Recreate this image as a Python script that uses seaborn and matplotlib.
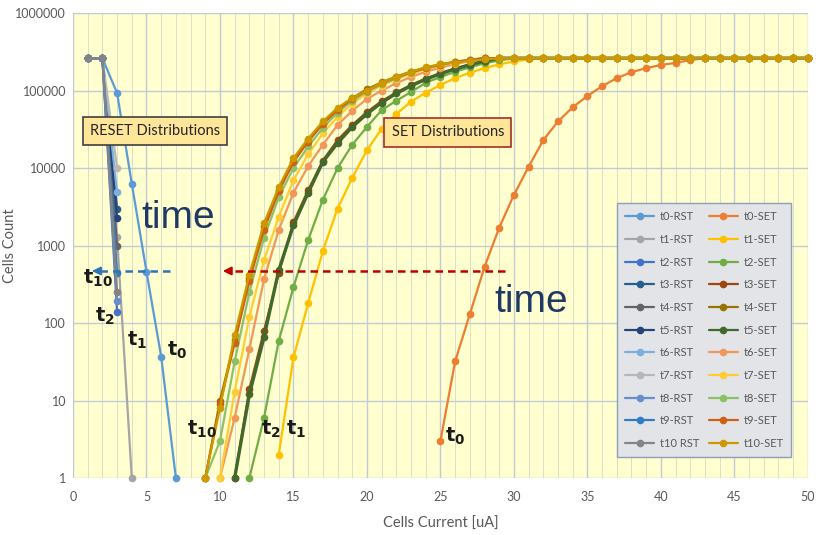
import matplotlib
matplotlib.use("Agg")
import matplotlib.pyplot as plt
from matplotlib.lines import Line2D
from matplotlib.ticker import FixedLocator, MultipleLocator
import numpy as np
import pandas as pd
import seaborn as sns

# ---------------- data ----------------
FULL = 262144

labels = ["t0", "t1", "t2", "t3", "t4", "t5", "t6", "t7", "t8", "t9", "t10"]

rst_colors = ["#5B9BD5", "#A5A5A5", "#4472C4", "#255E91", "#636363", "#264478",
              "#7CAFDD", "#B7B7B7", "#698ED0", "#327DC2", "#848484"]
set_colors = ["#ED7D31", "#FFC000", "#70AD47", "#9E480E", "#997300", "#43682B",
              "#F1975A", "#FFCD33", "#8CC168", "#D26012", "#CC9A00"]

# RESET distributions: first current value and counts (1 uA steps)
rst_start = [1, 1, 1, 1, 1, 1, 1, 1, 1, 1, 1]
t0_rst = [FULL, FULL, 93000, 6300, 460, 37, 1]
t1_rst = [FULL, FULL, 1300, 1]
t2_rst = [FULL, FULL, 140]
t3_rst = [FULL, FULL, 3000]
t4_rst = [FULL, FULL, 1000]
t5_rst = [FULL, FULL, 2250]
t6_rst = [FULL, FULL, 4900]
t7_rst = [FULL, FULL, 10000]
t8_rst = [FULL, FULL, 190]
t9_rst = [FULL, FULL, 440]
t10_rst = [FULL, FULL, 250]

# SET distributions: first current value and counts (1 uA steps up to 50 uA)
set_start = [25, 14, 12, 11, 9, 11, 10, 10, 9, 9, 9]
t0_set = [3, 32, 130, 530, 1700, 4500, 10400, 23000, 40000, 61000, 85000, 114000,
          145000, 173000, 195000, 214000, 228000, 248000,
          FULL, FULL, FULL, FULL, FULL, FULL, FULL, FULL]
t1_set = [2, 36, 180, 850, 3000, 7500, 17000, 32000, 50000, 72000, 94000, 118000,
          145000, 170000, 195000, 218000, 238000, 252000,
          FULL, FULL, FULL, FULL, FULL, FULL, FULL, FULL, FULL, FULL,
          FULL, FULL, FULL, FULL, FULL, FULL, FULL, FULL, FULL]
t2_set = [1, 6, 59, 290, 1180, 3900, 10000, 20000, 34000, 56000, 74000, 96000,
          126000, 150000, 175000, 200000, 225000, 245000,
          FULL, FULL, FULL, FULL, FULL, FULL, FULL, FULL, FULL, FULL, FULL,
          FULL, FULL, FULL, FULL, FULL, FULL, FULL, FULL, FULL, FULL]
t3_set = [1, 14, 80, 440, 2000, 5200, 12500, 23000, 36000, 53000, 73000, 95000,
          118000, 143000, 168000, 193000, 218000, 242000,
          FULL, FULL, FULL, FULL, FULL, FULL, FULL, FULL, FULL, FULL, FULL,
          FULL, FULL, FULL, FULL, FULL, FULL, FULL, FULL, FULL, FULL, FULL]
t4_set = [1, 10, 60, 380, 1800, 5200, 12000, 23000, 38000, 58000, 80000, 104000,
          128000, 152000, 176000, 198000, 218000, 236000, 250000,
          FULL, FULL, FULL, FULL, FULL, FULL, FULL, FULL, FULL, FULL, FULL, FULL,
          FULL, FULL, FULL, FULL, FULL, FULL, FULL, FULL, FULL, FULL, FULL]
t5_set = [1, 12, 66, 480, 1830, 4800, 12000, 21000, 34000, 50000, 70000, 92000,
          115000, 140000, 165000, 190000, 215000, 240000,
          FULL, FULL, FULL, FULL, FULL, FULL, FULL, FULL, FULL, FULL, FULL,
          FULL, FULL, FULL, FULL, FULL, FULL, FULL, FULL, FULL, FULL, FULL]
t6_set = [1, 6, 46, 370, 1600, 4800, 10600, 20000, 36000, 55000, 78000, 100000,
          125000, 150000, 175000, 198000, 220000, 240000,
          FULL, FULL, FULL, FULL, FULL, FULL, FULL, FULL, FULL, FULL, FULL, FULL,
          FULL, FULL, FULL, FULL, FULL, FULL, FULL, FULL, FULL, FULL, FULL]
t7_set = [1, 13, 120, 650, 2350, 7000, 15000, 28000, 46000, 68000, 92000, 116000,
          140000, 165000, 188000, 210000, 228000, 244000,
          FULL, FULL, FULL, FULL, FULL, FULL, FULL, FULL, FULL, FULL, FULL, FULL,
          FULL, FULL, FULL, FULL, FULL, FULL, FULL, FULL, FULL, FULL, FULL]
t8_set = [1, 3, 32, 250, 1260, 4200, 10000, 19000, 33000, 52000, 74000, 97000,
          120000, 145000, 170000, 193000, 214000, 232000, 247000,
          FULL, FULL, FULL, FULL, FULL, FULL, FULL, FULL, FULL, FULL, FULL, FULL,
          FULL, FULL, FULL, FULL, FULL, FULL, FULL, FULL, FULL, FULL, FULL]
t9_set = [1, 9, 55, 350, 1600, 5000, 12000, 22000, 37000, 56000, 78000, 100000,
          124000, 148000, 172000, 196000, 216000, 234000, 248000,
          FULL, FULL, FULL, FULL, FULL, FULL, FULL, FULL, FULL, FULL, FULL, FULL,
          FULL, FULL, FULL, FULL, FULL, FULL, FULL, FULL, FULL, FULL, FULL]
t10_set = [1, 8, 70, 420, 1950, 5700, 13400, 24000, 40000, 60000, 80000, 100000,
           126000, 150000, 175000, 200000, 220000, 230000, 243000, 252000,
           FULL, FULL, FULL, FULL, FULL, FULL, FULL, FULL, FULL, FULL, FULL,
           FULL, FULL, FULL, FULL, FULL, FULL, FULL, FULL, FULL, FULL, FULL]

rst_values = [t0_rst, t1_rst, t2_rst, t3_rst, t4_rst, t5_rst, t6_rst, t7_rst,
              t8_rst, t9_rst, t10_rst]
set_values = [t0_set, t1_set, t2_set, t3_set, t4_set, t5_set, t6_set, t7_set,
              t8_set, t9_set, t10_set]

y_ticks = [1, 10, 100, 1000, 10000, 100000, 1000000]
x_ticks = [0, 5, 10, 15, 20, 25, 30, 35, 40, 45, 50]

# ---------------- figure ----------------
sns.set_style("white")
plt.rcParams["font.family"] = ["Lato", "DejaVu Sans"]

fig = plt.figure(figsize=(8.22, 5.35), dpi=100)
ax = fig.add_axes([0.0888, 0.1065, 0.894, 0.869])
ax.set_facecolor("#FFFFCF")

GRAY_TXT = "#595959"


def draw(start, vals, color, lw=1.6):
    df = pd.DataFrame({"x": np.arange(start, start + len(vals)), "y": vals})
    sns.lineplot(data=df, x="x", y="y", ax=ax, color=color, marker="o",
                 markersize=5.5, markeredgewidth=0, linewidth=lw,
                 estimator=None, sort=False, legend=False, clip_on=False,
                 zorder=3)


for i, lab in enumerate(labels):
    draw(rst_start[i], rst_values[i], rst_colors[i])
    draw(set_start[i], set_values[i], set_colors[i],
         lw=2.4 if lab == "t5" else 1.6)

ax.set_yscale("log")
ax.set_ylim(1, 1e6)
ax.set_xlim(0, 50)
ax.yaxis.set_major_locator(FixedLocator(y_ticks))
ax.yaxis.set_minor_locator(FixedLocator([]))
ax.set_yticklabels([str(v) for v in y_ticks])
ax.xaxis.set_major_locator(FixedLocator(x_ticks))
ax.xaxis.set_minor_locator(MultipleLocator(1))
ax.set_xticklabels([str(v) for v in x_ticks])

ax.grid(which="major", axis="both", color="#C3C9D6", linewidth=1.0, zorder=0)
ax.grid(which="minor", axis="x", color="#DCDFCC", linewidth=0.7, zorder=0)
ax.set_axisbelow(True)
ax.tick_params(axis="both", which="both", length=0, labelsize=9,
               labelcolor=GRAY_TXT)
ax.tick_params(axis="y", pad=5)
ax.tick_params(axis="x", pad=9)
for s in ax.spines.values():
    s.set_visible(False)

ax.set_xlabel("Cells Current [uA]", fontsize=10.5, color=GRAY_TXT, labelpad=10)
ax.set_ylabel("Cells Count", fontsize=10.5, color=GRAY_TXT)
ax.yaxis.set_label_coords(-0.076, 0.5)

# ---------------- annotations ----------------
ax.text(5.58, 30000, "RESET Distributions", ha="center", va="center",
        fontsize=10.5, color="#262626", zorder=6,
        bbox=dict(boxstyle="square,pad=0.5", fc="#FFE699", ec="#404040", lw=1.2))
ax.text(25.5, 29000, "SET Distributions", ha="center", va="center",
        fontsize=10.5, color="#262626", zorder=6,
        bbox=dict(boxstyle="square,pad=0.5", fc="#FFE699", ec="#A0302A", lw=1.2))

ax.text(7.14, 2260, "time", ha="center", va="center", fontsize=28,
        color="#1F3864", family=["Liberation Sans", "DejaVu Sans"], zorder=6)
ax.text(31.2, 186, "time", ha="center", va="center", fontsize=28,
        color="#1F3864", family=["Liberation Sans", "DejaVu Sans"], zorder=6)

# dashed arrows
ax.plot([6.6, 1.6], [470, 470], linestyle=(0, (3, 2)), color="#2E75B6", lw=1.8,
        zorder=5)
ax.annotate("", xy=(1.1, 470), xytext=(1.7, 470),
            arrowprops=dict(arrowstyle="-|>", color="#2E75B6", lw=1.5,
                            mutation_scale=12), zorder=5)
ax.plot([29.4, 10.6], [470, 470], linestyle=(0, (3, 2)), color="#C00000", lw=1.8,
        zorder=5)
ax.annotate("", xy=(10.0, 470), xytext=(10.7, 470),
            arrowprops=dict(arrowstyle="-|>", color="#C00000", lw=1.5,
                            mutation_scale=12), zorder=5)

tlabels = [
    (1.7, 380, "10"), (2.2, 123, "2"), (4.35, 60, "1"), (7.1, 45, "0"),
    (8.8, 4.2, "10"), (13.5, 4.2, "2"), (15.2, 4.2, "1"), (26.0, 3.4, "0"),
]
for x, y, sub in tlabels:
    ax.text(x, y, r"$\mathbf{t}_{\mathbf{%s}}$" % sub, ha="center", va="center",
            fontsize=14, color="#1A1A1A", zorder=6)

# ---------------- legend ----------------
handles = []
for i, lab in enumerate(labels):
    handles.append(Line2D([], [], color=rst_colors[i], marker="o", markersize=5.5,
                          markeredgewidth=0, lw=1.6,
                          label=lab + ("-RST" if lab != "t10" else " RST")))
for i, lab in enumerate(labels):
    handles.append(Line2D([], [], color=set_colors[i], marker="o", markersize=5.5,
                          markeredgewidth=0, lw=1.6, label=lab + "-SET"))
leg = ax.legend(handles=handles, ncol=2, loc="lower right",
                bbox_to_anchor=(0.985, 0.034), fontsize=8, frameon=True,
                fancybox=False, facecolor="#E2E4E8", edgecolor="#8EA0B8",
                framealpha=1, handlelength=2.6, labelspacing=1.05,
                columnspacing=0.9, handletextpad=0.5, borderpad=0.7)
leg.get_frame().set_linewidth(1.0)
for t in leg.get_texts():
    t.set_color(GRAY_TXT)
leg.set_zorder(7)

fig.savefig("out.png", dpi=100, facecolor="white")
